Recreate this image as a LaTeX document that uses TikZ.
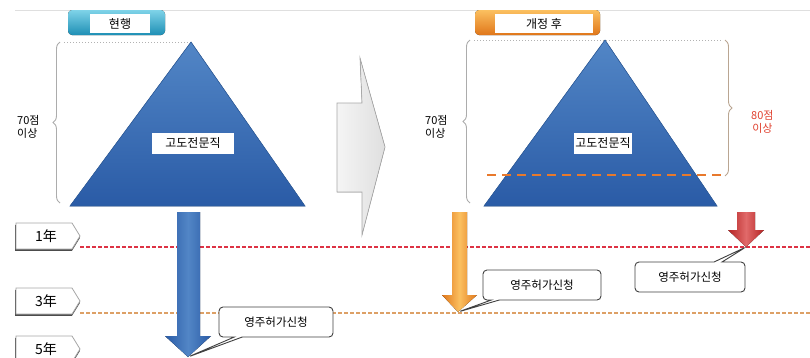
\documentclass[tikz,border=0pt]{standalone}
\usepackage{fontspec}
\setmainfont{Noto Sans CJK KR}
\usetikzlibrary{shapes.callouts,decorations.pathreplacing,calc}
\definecolor{triTop}{HTML}{5286C6}
\definecolor{triBot}{HTML}{2A5BA6}
\definecolor{triEdge}{HTML}{2F5E9E}
\definecolor{tealA}{HTML}{7FD3E8}
\definecolor{tealB}{HTML}{1E8FB5}
\definecolor{oranA}{HTML}{FBC060}
\definecolor{oranB}{HTML}{E0761A}
\definecolor{redLine}{HTML}{DD3345}
\definecolor{tanLine}{HTML}{DDA066}
\definecolor{dashOr}{HTML}{E8792C}
\definecolor{redArr}{HTML}{D42A2A}
\definecolor{redTxt}{HTML}{E0402E}
\definecolor{grayEdge}{HTML}{A8A8A8}
\tikzset{
  txt/.style={font=\fontsize{11}{12.5}\selectfont, inner sep=0pt, align=center},
  lbl/.style={fill=white, font=\fontsize{12}{13}\selectfont, inner sep=0pt, minimum height=20, text centered},
  yearbox/.style={draw=gray!70, fill=white, line width=0.8},
  yearshadow/.style={fill=black!70},
  callbox/.style={rectangle callout, draw=black!75, fill=white, line width=0.9, rounded corners=4,
     font=\fontsize{11.5}{12}\selectfont, callout pointer width=8},
  bracegray/.style={draw=gray!65, line width=0.9, decorate, decoration={brace, amplitude=7}},
  dotline/.style={draw=gray!60, dotted, line width=1},
  yrline/.style={dashed, dash pattern=on 4 off 2, line width=1.6},
}
\begin{document}
\begin{tikzpicture}[x=1pt,y=-1pt]
\useasboundingbox (0,0) rectangle (810,357);
\clip (0,0) rectangle (810,357);
% top rule
\draw[gray!25, line width=0.8] (15,10) -- (810,10);

% tabs
\fill[top color=tealA, bottom color=tealB, rounded corners=4] (68,10) rectangle (165,35);
\node[lbl, minimum width=60, minimum height=19] (tabL) at (120,23.5) {현행};
\fill[top color=oranA, bottom color=oranB, rounded corners=4] (475,10) rectangle (600,35);
\node[lbl, minimum width=98, minimum height=19] (tabR) at (544,23.5) {개정 후};

% year dashed lines
\draw[yrline, redLine] (80,247) -- (810,247);
\draw[yrline, tanLine] (80,313) -- (810,313);

% year labels
\foreach \yy/\lab/\nm in {223/1年/y1, 288/3年/y3, 336/5年/y5}{
  \fill[yearshadow] ($(15,\yy)+(0,1.8)$) -- ++(57,0) -- ++(8,13) -- ++(-8,13) -- ++(-57,0) -- cycle;
  \filldraw[yearbox] (16,\yy) -- ++(56,0) -- ++(8,13) -- ++(-8,13) -- ++(-56,0) -- cycle;
  \node[font=\fontsize{14}{15}\selectfont, inner sep=0pt] (\nm) at (46,\yy+13) {\lab};
}

% left triangle and brace
\coordinate (LA) at (191,42);
\draw[dotline] (64,42) -- (LA);
\draw[bracegray] (60,203) -- (60,42);
\filldraw[draw=triEdge, top color=triTop, bottom color=triBot, line width=0.6] (LA) -- (305,206) -- (70,206) -- cycle;
\node[lbl, minimum width=82, minimum height=21] (gdL) at (193,143) {고도전문직};
\node[txt, anchor=west, align=left] (s70L) at (17,127) {70점\\이상};

% gray transition arrow
\filldraw[draw=grayEdge, line width=0.7, left color=gray!8, right color=gray!25]
  (337,103) -- (362,103) -- (360,58) -- (385,147) -- (362,235) -- (362,192) -- (337,192) -- cycle;

% right triangle and braces
\coordinate (RA) at (605,40);
\draw[dotline] (474,40) -- (722,40);
\draw[bracegray] (470,203) -- (470,40);
\filldraw[draw=triEdge, top color=triTop, bottom color=triBot, line width=0.6] (RA) -- (717,206) -- (484,206) -- cycle;
\draw[draw=brown!45!gray!70, line width=0.9, decorate, decoration={brace, amplitude=7}] (725,40) -- (725,176);
\draw[dashOr, line width=2.6, dash pattern=on 9 off 6] (487,175) -- (723,175);
\node[lbl, minimum width=58, minimum height=21] (gdR) at (603,143) {고도전문직};
\node[txt, anchor=west, align=left] (s70R) at (425,127) {70점\\이상};
\node[txt, anchor=west, text=redTxt] (s80R) at (751,122) {80점\\이상};

% blue arrow (left)
\coordinate (tipB) at (188,357);
\fill[left color=triBot, right color=triBot, middle color=triTop]
  (177,212) -- (200,212) -- (200,336) -- (211,336) -- (tipB) -- (165,336) -- (177,336) -- cycle;

% orange arrow
\coordinate (tipO) at (458,312);
\fill[left color=oranB, right color=oranB, middle color=oranA]
  (452,212) -- (467,212) -- (467,295) -- (477,295) -- (tipO) -- (442,295) -- (452,295) -- cycle;

% red arrow
\coordinate (tipR) at (746,247);
\fill[left color=redArr!85!black, right color=redArr!85!black, middle color=redArr!70!white]
  (737,212) -- (755,212) -- (755,230) -- (764,230) -- (tipR) -- (728,230) -- (737,230) -- cycle;

% callouts
\node[callbox, minimum width=114, minimum height=30, callout absolute pointer={(tipB)}] (cL) at (276,322) {영주허가신청};
\node[callbox, minimum width=118, minimum height=30, callout absolute pointer={(tipO)}] (cO) at (542,285) {영주허가신청};
\node[callbox, minimum width=110, minimum height=30, callout absolute pointer={(tipR)}] (cR) at (690,277) {영주허가신청};
\end{tikzpicture}
\end{document}
